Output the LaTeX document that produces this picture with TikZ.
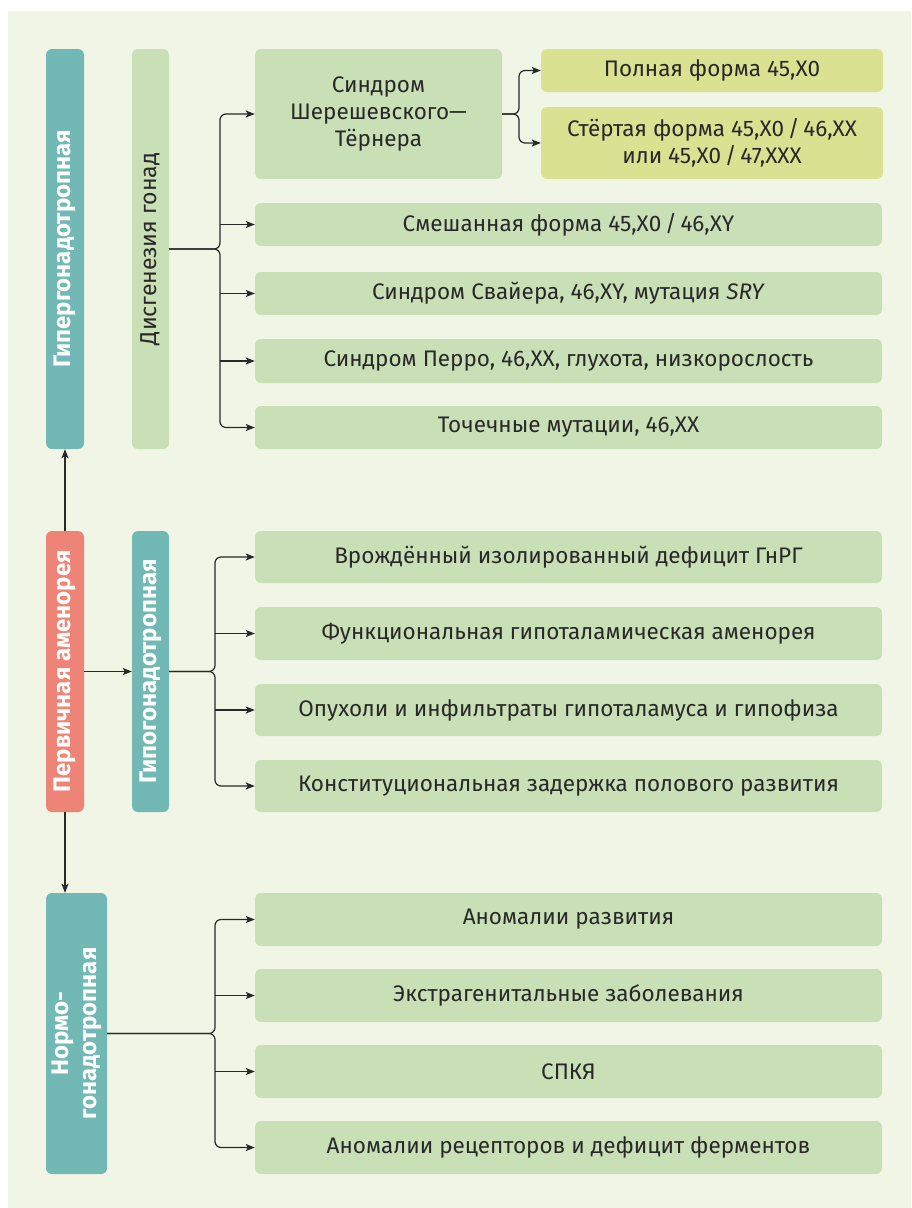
\documentclass[tikz,border=0pt]{standalone}
\usepackage{fontspec}
\setmainfont{Fira Sans}
\usepackage{tikz}
\usetikzlibrary{arrows.meta}
\usepackage{xcolor}
\definecolor{panelbg}{RGB}{241,245,230}
\definecolor{tealbar}{RGB}{114,184,180}
\definecolor{salmonbar}{RGB}{238,132,119}
\definecolor{leafgreen}{RGB}{201,224,183}
\definecolor{leafyellow}{RGB}{218,225,145}
\definecolor{inkgray}{RGB}{40,40,40}

\newcommand{\leaffont}{\fontsize{22.5}{27}\selectfont}
\newcommand{\barfont}{\fontsize{24}{28}\selectfont}
\newcommand{\vtext}[1]{\rotatebox{90}{\begin{tabular}{@{}c@{}}#1\end{tabular}}}

\tikzset{
  bar/.style={rounded corners=6pt, inner sep=0pt, text=white, font=\barfont\bfseries},
  leaf/.style={fill=leafgreen, rounded corners=6pt, inner sep=0pt,
    minimum width=627pt, text=inkgray, font=\leaffont, align=center},
  link/.style={->, draw=inkgray, line width=1.2pt},
  brace/.style={link, rounded corners=6pt}
}

\begin{document}
\begin{tikzpicture}[x=1pt, y=-1pt, >={Stealth[length=9pt, width=7pt, inset=2pt]}]
    \useasboundingbox (0,0) rectangle (911,1208);
    \fill[panelbg] (8,11) rectangle (911,1208);

    % first column
    \node[bar, fill=tealbar, minimum width=38pt, minimum height=400pt] (hyper) at (65,249) {\vtext{Гипергонадотропная}};
    \node[bar, fill=salmonbar, minimum width=38pt, minimum height=281pt] (prim) at (65,671.5) {\vtext{Первичная аменорея}};
    \node[bar, fill=tealbar, minimum width=61pt, minimum height=281pt] (normo) at (76.5,1033.5) {\vtext{Нормо-\\гонадотропная}};

    % second column
    \node[bar, fill=leafgreen, text=inkgray, font=\fontsize{23}{28}\selectfont, minimum width=37pt, minimum height=400pt] (dis) at (150.5,249) {\vtext{Дисгенезия гонад}};
    \node[bar, fill=tealbar, minimum width=37pt, minimum height=281pt] (hypo) at (150.5,671.5) {\vtext{Гипогонадотропная}};

    % gonadal dysgenesis
    \node[leaf, minimum width=247pt, minimum height=130pt] (shr) at (378.5,114) {Синдром\\Шерешевского—\\Тёрнера};
    \node[leaf, fill=leafyellow, minimum width=342pt, minimum height=43pt] (full) at (712,70.5) {Полная форма 45,X0};
    \node[leaf, fill=leafyellow, minimum width=342pt, minimum height=72pt] (erased) at (712,143) {Стёртая форма 45,X0\,/\,46,XX\\или 45,X0\,/\,47,XXX};
    \node[leaf, minimum height=43pt] (mix) at (568.5,224.5) {Смешанная форма 45,X0\,/\,46,XY};
    \node[leaf, minimum height=43pt] (swyer) at (568.5,293.5) {Синдром Свайера, 46,XY, мутация \textit{SRY}};
    \node[leaf, minimum height=44pt] (perrault) at (568.5,361) {Синдром Перро, 46,XX, глухота, низкорослость};
    \node[leaf, minimum height=43pt] (point) at (568.5,427.5) {Точечные мутации, 46,XX};

    % hypogonadotropic
    \node[leaf, minimum height=52pt] (hh1) at (568.5,557) {Врождённый изолированный дефицит ГнРГ};
    \node[leaf, minimum height=53pt] (hh2) at (568.5,633.5) {Функциональная гипоталамическая аменорея};
    \node[leaf, minimum height=52pt] (hh3) at (568.5,710) {Опухоли и инфильтраты гипоталамуса и гипофиза};
    \node[leaf, minimum height=52pt] (hh4) at (568.5,786) {Конституциональная задержка полового развития};

    % normogonadotropic
    \node[leaf, minimum height=53pt] (nn1) at (568.5,919.5) {Аномалии развития};
    \node[leaf, minimum height=53pt] (nn2) at (568.5,995.5) {Экстрагенитальные заболевания};
    \node[leaf, minimum height=53pt] (nn3) at (568.5,1071.5) {СПКЯ};
    \node[leaf, minimum height=53pt] (nn4) at (568.5,1147.5) {Аномалии рецепторов и дефицит ферментов};

    \coordinate (disfork) at (220,249);
    \coordinate (shrfork) at (519,114);
    \coordinate (hypofork) at (215,671.5);
    \coordinate (normofork) at (215,1033.5);

    \draw[link] (prim.north) -- (hyper.south);
    \draw[link] (prim.south) -- (prim.south |- normo.north);
    \draw[link] (prim.east) -- (hypo.west);

    \draw[brace] (dis.east) -- (disfork) |- (shr.west);
    \draw[brace] (dis.east) -- (disfork) |- (point.west);
    \draw[link] (mix.west -| disfork) -- (mix.west);
    \draw[link] (swyer.west -| disfork) -- (swyer.west);
    \draw[link] (perrault.west -| disfork) -- (perrault.west);

    \draw[brace] (shr.east) -- (shrfork) |- (full.west);
    \draw[brace] (shr.east) -- (shrfork) |- (erased.west);

    \draw[brace] (hypo.east) -- (hypofork) |- (hh1.west);
    \draw[brace] (hypo.east) -- (hypofork) |- (hh4.west);
    \draw[link] (hh2.west -| hypofork) -- (hh2.west);
    \draw[link] (hh3.west -| hypofork) -- (hh3.west);

    \draw[brace] (normo.east) -- (normofork) |- (nn1.west);
    \draw[brace] (normo.east) -- (normofork) |- (nn4.west);
    \draw[link] (nn2.west -| normofork) -- (nn2.west);
    \draw[link] (nn3.west -| normofork) -- (nn3.west);
\end{tikzpicture}
\end{document}
